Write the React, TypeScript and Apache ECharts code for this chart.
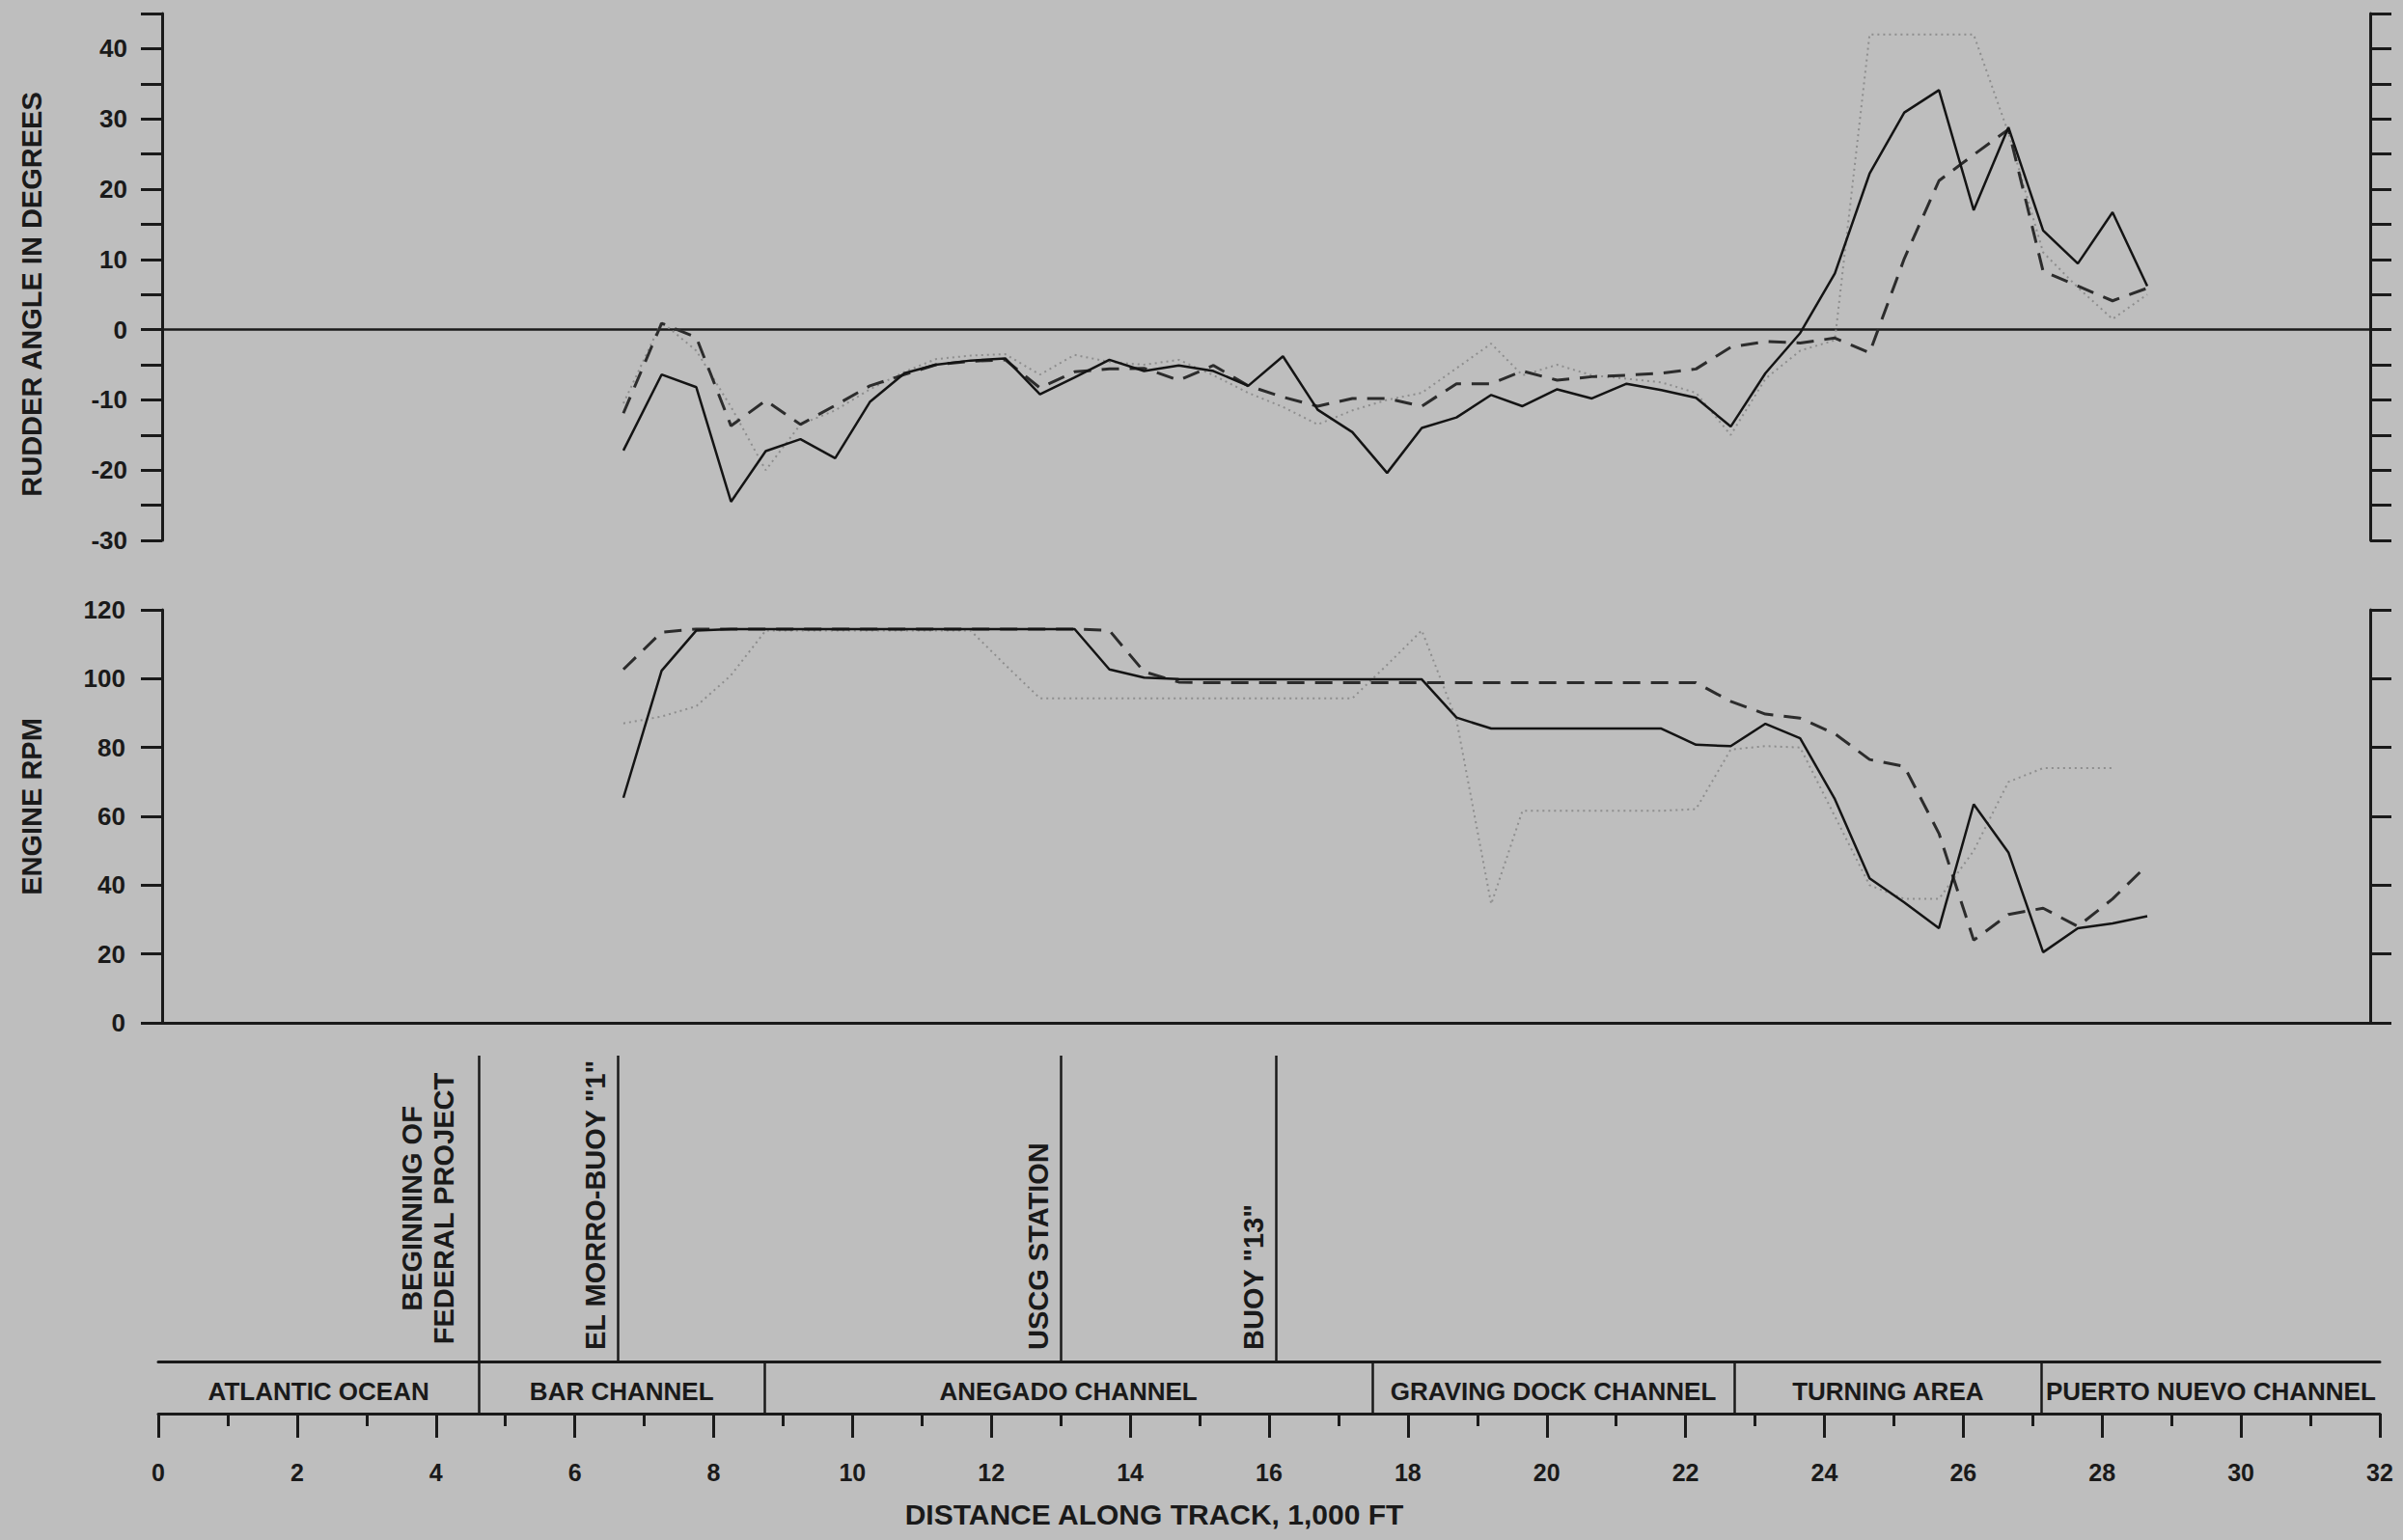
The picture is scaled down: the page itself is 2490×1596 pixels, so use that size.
import React, { useEffect, useRef } from 'react';
import * as echarts from 'echarts';

// Sample positions along track (1,000 ft)
const distance = [
  6.7, 7.25, 7.75, 8.25, 8.75, 9.25, 9.75, 10.25, 10.75, 11.2,
  11.7, 12.2, 12.7, 13.2, 13.7, 14.2, 14.7, 15.2, 15.7, 16.2,
  16.7, 17.2, 17.7, 18.2, 18.7, 19.2, 19.65, 20.15, 20.65, 21.15,
  21.65, 22.15, 22.65, 23.15, 23.65, 24.15, 24.65, 25.15, 25.65, 26.15,
  26.65, 27.15, 27.65, 28.15, 28.65,
];

// Rudder angle (degrees)
const rudderSolid = [
  -17.2, -6.4, -8.2, -24.5, -17.3, -15.6, -18.3, -10.3, -6.2, -5.0,
  -4.4, -4.1, -9.2, -6.8, -4.3, -5.9, -5.1, -5.9, -8.0, -3.8,
  -11.4, -14.6, -20.4, -14.0, -12.5, -9.3, -10.9, -8.5, -9.8, -7.7,
  -8.6, -9.7, -13.8, -6.2, -0.5, 8.0, 22.2, 30.9, 34.1, 17.0,
  28.8, 14.1, 9.4, 16.7, 6.2,
];
const rudderDashed = [
  -11.9, 0.9, -1.1, -13.7, -10.1, -13.5, -10.8, -8.0, -6.4, -5.0,
  -4.5, -4.3, -8.3, -6.0, -5.6, -5.5, -7.2, -5.1, -8.0, -9.6,
  -10.9, -9.8, -9.8, -10.9, -7.7, -7.7, -5.9, -7.2, -6.7, -6.5,
  -6.2, -5.6, -2.5, -1.7, -1.9, -1.2, -3.3, 10.1, 21.2, 24.9,
  28.5, 8.3, 6.2, 4.1, 5.9,
];
const rudderDotted = [
  -10.5, 1.1, -3, -11, -20, -13.5, -11.5, -8.5, -6, -4.2,
  -3.7, -3.5, -6.4, -3.6, -4.6, -5, -4.3, -6.5, -9, -11,
  -13.5, -11.5, -10, -9, -5.5, -2, -6.5, -5, -6.5, -7,
  -7.5, -9, -15, -7, -3, -1.5, 42, 42, 42, 42,
  28, 11, 6, 1.5, 5,
];

// Engine RPM
const rpmSolid = [
  65.4, 102.3, 114, 114.4, 114.4, 114.4, 114.4, 114.4, 114.4, 114.4,
  114.4, 114.4, 114.4, 114.4, 102.7, 100.3, 99.9, 99.8, 99.8, 99.8,
  99.8, 99.8, 99.8, 99.8, 88.7, 85.5, 85.5, 85.5, 85.5, 85.5,
  85.5, 80.8, 80.4, 86.9, 82.7, 65, 42.0, 35, 27.5, 63.5,
  49.5, 20.5, 27.5, 28.9, 31.0,
];
const rpmDashed = [
  102.7, 113.5, 114.4, 114.4, 114.4, 114.4, 114.4, 114.4, 114.4, 114.4,
  114.4, 114.4, 114.4, 114.4, 114, 102, 99, 98.8, 98.8, 98.8,
  98.8, 98.8, 98.8, 98.8, 98.8, 98.8, 98.8, 98.8, 98.8, 98.8,
  98.8, 98.8, 93.4, 89.7, 88.5, 84, 76.5, 74.5, 55, 24,
  31.5, 33.3, 28, 36, 45.8,
];
const rpmDotted = [
  87, 89, 92, 101, 114, 114, 114, 114, 114, 114,
  114, 104, 94.3, 94.3, 94.3, 94.3, 94.3, 94.3, 94.3, 94.3,
  94.3, 94.3, 104, 114, 88, 34.5, 61.6, 61.6, 61.6, 61.6,
  61.6, 62.1, 79.4, 80.4, 80, 60, 40, 36, 36, 50,
  70, 74, 74, 74, null,
];

// Channel reaches along the track
const bandBounds = [0, 4.62, 8.73, 17.49, 22.7, 27.13, 32];
const bandNames = [
  'ATLANTIC OCEAN', 'BAR CHANNEL', 'ANEGADO CHANNEL',
  'GRAVING DOCK CHANNEL', 'TURNING AREA', 'PUERTO NUEVO CHANNEL',
];

// Landmarks
const markerPositions = [4.62, 6.62, 13.0, 16.1];
const markerNames = [
  'BEGINNING OF\nFEDERAL PROJECT', 'EL MORRO-BUOY "1"', 'USCG STATION', 'BUOY "13"',
];

const INK = '#1a1a1a';
const FONT = 'Liberation Sans';

function zip(vals: (number | null)[]) {
  const out: number[][] = [];
  distance.forEach((d, i) => {
    const v = vals[i];
    if (v !== null && v !== undefined) out.push([d, v]);
  });
  return out;
}

const solidStyle = { color: '#141414', width: 2.5, type: 'solid' as const };
const dashStyle = { color: '#2c2c2c', width: 3, type: [18, 11] };
const dotStyle = { color: '#8e8e8e', width: 2, type: [2, 4] };

function lineSeries(vals: (number | null)[], xi: number, yi: number, style: any, z: number) {
  return {
    type: 'line',
    xAxisIndex: xi,
    yAxisIndex: yi,
    data: zip(vals),
    symbol: 'none',
    color: style.color,
    lineStyle: style,
    silent: true,
    z,
  };
}

const axisLineStyle = { color: INK, width: 3 };

export default function App() {
  const ref = useRef<HTMLDivElement>(null);

  useEffect(() => {
    if (!ref.current) return;
    const chart = echarts.init(ref.current, null, { renderer: 'svg' });

    const gridBase = { left: 164, width: 2302, outerBoundsMode: 'none' };

    const bandLabels = bandNames.map((name, i) => [
      (bandBounds[i] + bandBounds[i + 1]) / 2, 0.5, name,
    ]);

    const option: any = {
      animation: false,
      backgroundColor: '#bebebe',
      textStyle: { fontFamily: FONT },
      grid: [
        { ...gridBase, top: 14, height: 546 },
        { ...gridBase, top: 632, height: 428 },
        { ...gridBase, top: 1411, height: 54 },
        { ...gridBase, top: 1094, height: 317 },
      ],
      xAxis: [
        {
          gridIndex: 0, type: 'value', min: 0, max: 32,
          axisLine: { show: true, onZero: true, lineStyle: { color: INK, width: 2.5 } },
          axisTick: { show: false }, axisLabel: { show: false }, splitLine: { show: false },
        },
        {
          gridIndex: 1, type: 'value', min: 0, max: 32,
          axisLine: { show: true, onZero: true, lineStyle: axisLineStyle },
          axisTick: { show: false }, axisLabel: { show: false }, splitLine: { show: false },
        },
        {
          gridIndex: 2, type: 'value', min: 0, max: 32, interval: 2, position: 'bottom',
          axisLine: { show: true, onZero: false, lineStyle: axisLineStyle },
          axisTick: { show: true, inside: false, length: 25, lineStyle: axisLineStyle },
          minorTick: { show: true, splitNumber: 2, length: 13, lineStyle: axisLineStyle },
          axisLabel: { show: true, fontSize: 25, fontWeight: 'bold', color: INK, margin: 48, fontFamily: FONT },
          splitLine: { show: false }, minorSplitLine: { show: false },
        },
        {
          gridIndex: 2, type: 'value', min: 0, max: 32, position: 'top',
          axisLine: { show: true, onZero: false, lineStyle: axisLineStyle },
          axisTick: { show: false }, axisLabel: { show: false }, splitLine: { show: false },
        },
        { gridIndex: 3, type: 'value', min: 0, max: 32, show: false },
      ],
      yAxis: [
        {
          gridIndex: 0, type: 'value', min: -30, max: 45, interval: 5, position: 'left', offset: -4,
          axisLine: { show: true, onZero: false, lineStyle: axisLineStyle },
          axisTick: { show: true, length: 22, lineStyle: axisLineStyle },
          axisLabel: {
            formatter: (v: number) => (v % 10 === 0 ? String(v) : ''),
            fontSize: 26, fontWeight: 'bold', color: INK, margin: 36, fontFamily: FONT,
          },
          splitLine: { show: false },
        },
        {
          gridIndex: 0, type: 'value', min: -30, max: 45, interval: 5, position: 'right', offset: -10,
          axisLine: { show: true, onZero: false, lineStyle: axisLineStyle },
          axisTick: { show: true, length: 22, lineStyle: axisLineStyle },
          axisLabel: { show: false }, splitLine: { show: false },
        },
        {
          gridIndex: 1, type: 'value', min: 0, max: 120, interval: 20, position: 'left', offset: -4,
          axisLine: { show: true, onZero: false, lineStyle: axisLineStyle },
          axisTick: { show: true, length: 22, lineStyle: axisLineStyle },
          axisLabel: { fontSize: 26, fontWeight: 'bold', color: INK, margin: 38, fontFamily: FONT },
          splitLine: { show: false },
        },
        {
          gridIndex: 1, type: 'value', min: 0, max: 120, interval: 20, position: 'right', offset: -10,
          axisLine: { show: true, onZero: false, lineStyle: axisLineStyle },
          axisTick: { show: true, length: 22, lineStyle: axisLineStyle },
          axisLabel: { show: false }, splitLine: { show: false },
        },
        { gridIndex: 2, type: 'value', min: 0, max: 1, show: false },
        { gridIndex: 3, type: 'value', min: 0, max: 1, show: false },
      ],
      series: [
        lineSeries(rudderDotted, 0, 0, dotStyle, 2),
        lineSeries(rudderDashed, 0, 0, dashStyle, 3),
        lineSeries(rudderSolid, 0, 0, solidStyle, 4),
        lineSeries(rpmDotted, 1, 2, dotStyle, 2),
        lineSeries(rpmDashed, 1, 2, dashStyle, 3),
        lineSeries(rpmSolid, 1, 2, solidStyle, 4),
        {
          type: 'scatter', xAxisIndex: 2, yAxisIndex: 4, data: bandLabels,
          symbolSize: 0, silent: true,
          itemStyle: { color: 'transparent', opacity: 1 },
          label: {
            show: true, position: 'inside', color: INK, opacity: 1, textBorderWidth: 0,
            fontSize: 26, fontWeight: 'bold', fontFamily: FONT, offset: [0, 4],
            formatter: (p: any) => p.data[2],
          },
          markLine: {
            silent: true, symbol: ['none', 'none'], label: { show: false },
            lineStyle: { color: INK, width: 2.5, type: 'solid' },
            emphasis: { disabled: true },
            data: bandBounds.slice(1, -1).map((v) => ({ xAxis: v })),
          },
        },
        {
          type: 'scatter', xAxisIndex: 4, yAxisIndex: 5, data: [[0, 0]],
          symbolSize: 0, silent: true, itemStyle: { color: 'transparent', opacity: 1 },
          markLine: {
            silent: true, symbol: ['none', 'none'],
            lineStyle: { color: INK, width: 2.5, type: 'solid' },
            emphasis: { disabled: true },
            label: {
              show: true, color: INK, fontSize: 29, fontWeight: 'bold', fontFamily: FONT, lineHeight: 33,
            },
            data: markerPositions.map((v, i) => ({
              xAxis: v,
              label: {
                formatter: markerNames[i],
                position: i === 0 ? 'insideMiddleTop' : 'insideStartTop',
                distance: i === 0 ? [0, 20] : [12, 7],
              },
            })),
          },
        },
      ],
      graphic: [
        {
          type: 'text', x: 33, y: 305, rotation: Math.PI / 2,
          style: {
            text: 'RUDDER ANGLE IN DEGREES', fill: INK, fontSize: 29, fontWeight: 'bold', fontFamily: FONT,
            align: 'center', verticalAlign: 'middle',
          },
        },
        {
          type: 'text', x: 33, y: 836, rotation: Math.PI / 2,
          style: {
            text: 'ENGINE RPM', fill: INK, fontSize: 29, fontWeight: 'bold', fontFamily: FONT,
            align: 'center', verticalAlign: 'middle',
          },
        },
        {
          type: 'text', x: 1196, y: 1569,
          style: {
            text: 'DISTANCE ALONG TRACK, 1,000 FT', fill: INK, fontSize: 30, fontWeight: 'bold', fontFamily: FONT,
            align: 'center', verticalAlign: 'middle',
          },
        },
      ],
    };

    chart.setOption(option);
    return () => chart.dispose();
  }, []);

  return (
    <div
      ref={ref}
      style={{ position: 'absolute', left: 0, top: 0, width: 2490, height: 1596 }}
    />
  );
}
